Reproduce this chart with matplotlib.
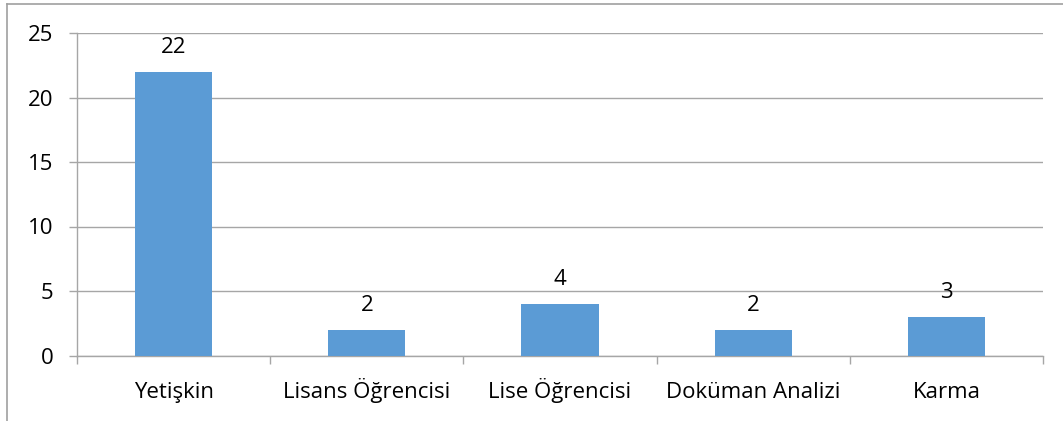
import matplotlib
matplotlib.use('Agg')
from matplotlib import pyplot as plt
from matplotlib.lines import Line2D

kategoriler = ['Yetişkin', 'Lisans Öğrencisi', 'Lise Öğrencisi', 'Doküman Analizi', 'Karma']
degerler = [22, 2, 4, 2, 3]
y_ticks = [0, 5, 10, 15, 20, 25]

plt.rcParams['font.family'] = ['Open Sans', 'DejaVu Sans']
gri = '#a6a6a6'
fs = 16

fig = plt.figure(figsize=(10.63, 4.21), dpi=100)
ax = fig.add_axes([77 / 1063, 1 - 355.5 / 421, (1043 - 77) / 1063, (355.5 - 33) / 421])

x = list(range(len(kategoriler)))
bars = ax.bar(x, degerler, width=0.4, color='#5b9bd5', zorder=3)
for xi, v in zip(x, degerler):
    ax.annotate(str(v), (xi, v), xytext=(0, 13.5), textcoords='offset points',
                ha='center', va='baseline', fontsize=fs)

ax.set_xlim(-0.5, len(kategoriler) - 0.5)
ax.set_ylim(0, 25)
ax.set_yticks(y_ticks)
ax.yaxis.grid(True, color=gri, linewidth=1)
ax.set_axisbelow(True)

ax.set_xticks([i - 0.5 for i in range(len(kategoriler) + 1)])
ax.set_xticklabels([])
ax.set_xticks(x, minor=True)
ax.set_xticklabels(kategoriler, minor=True, fontsize=fs)
for lbl in ax.get_xticklabels(minor=True):
    lbl.set_verticalalignment('baseline')
ax.tick_params(axis='x', which='major', length=6, color=gri, width=1, direction='out')
ax.tick_params(axis='x', which='minor', length=0, pad=30.5)
ax.tick_params(axis='y', length=6, color=gri, width=1, pad=11, labelsize=fs)

for s in ['top', 'right']:
    ax.spines[s].set_visible(False)
for s in ['left', 'bottom']:
    ax.spines[s].set_color(gri)
    ax.spines[s].set_linewidth(1)

# dış çerçeve (üst ve sol)
fig.add_artist(Line2D([7 / 1063, 1], [1 - 4 / 421, 1 - 4 / 421], color='#a0a0a0', lw=1.2, transform=fig.transFigure))
fig.add_artist(Line2D([7 / 1063, 7 / 1063], [0, 1 - 4 / 421], color='#a0a0a0', lw=1.2, transform=fig.transFigure))

fig.savefig('out.png', dpi=100)
